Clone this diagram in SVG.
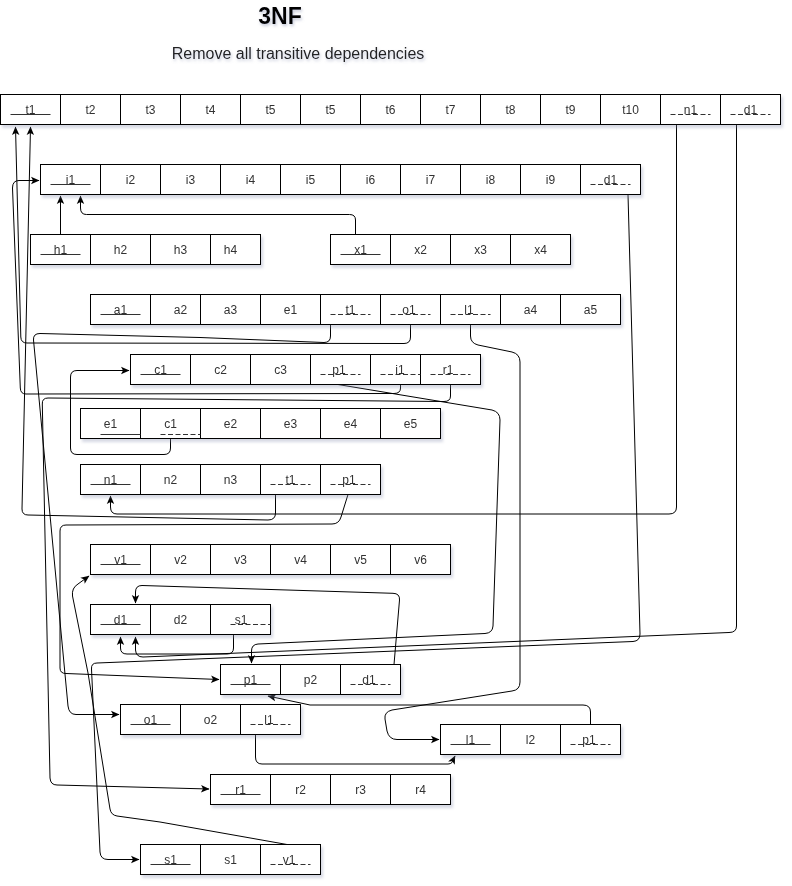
<svg xmlns="http://www.w3.org/2000/svg" width="792" height="886" viewBox="0 0 792 886">
<style>
.c{fill:#fff;stroke:#000;stroke-width:1}
.t{font-family:"Liberation Sans",Arial,sans-serif;font-size:12px;fill:#333;text-anchor:middle}
.pk{stroke:#333;stroke-width:1}
.fk{stroke:#333;stroke-width:1;stroke-dasharray:5 2.5}
.e{fill:none;stroke:#000;stroke-width:1}
.ea{fill:none;stroke:#000;stroke-width:1;marker-end:url(#ar)}
.tb{filter:url(#sh)}
</style>
<defs>
<filter id="sh" x="-5%" y="-20%" width="115%" height="160%">
<feDropShadow dx="2" dy="3" stdDeviation="1.5" flood-color="#8890b0" flood-opacity="0.35"/>
</filter>
<filter id="tsh" x="-20%" y="-50%" width="140%" height="200%">
<feDropShadow dx="1" dy="2" stdDeviation="1.5" flood-color="#8890b0" flood-opacity="0.5"/>
</filter>
<marker id="ar" markerWidth="10" markerHeight="10" refX="9" refY="5" orient="auto" markerUnits="userSpaceOnUse">
<path d="M1,1.3 L9.5,5 L1,8.7 L3,5 z" fill="#000"/>
</marker>
</defs>
<rect width="792" height="886" fill="#fff"/>
<g id="title">
<text x="280" y="24" font-family="Liberation Sans,Arial,sans-serif" font-size="23" font-weight="bold" fill="#000" text-anchor="middle" filter="url(#tsh)">3NF</text>
<text x="298" y="59" font-family="Liberation Sans,Arial,sans-serif" font-size="16" fill="#222" text-anchor="middle" filter="url(#tsh)">Remove all transitive dependencies</text>
</g>

<g id="connectors">
<path class="ea" d="M60.5,234.5 V196"/>
<path class="ea" d="M355.5,234.5 V220 Q355.5,214.5 349.5,214.5 H86.5 Q80.5,214.5 80.5,208 V196"/>
<path class="ea" d="M400.5,384.5 V388 Q400.5,393.5 394,393.5 L26,394 Q20.5,394 20.3,388 L12.5,188 Q12.5,180.5 19,180.5 H39"/>
<path class="ea" d="M330.5,324.5 V336 Q330.5,342.5 324,342.5 L200,337.5 L40,333.5 Q33,333.5 33.5,340 L68,706 Q69,714.5 76,714.5 H119"/>
<path class="ea" d="M410.5,324.5 V337 Q410.5,343.5 404,343.5 L27,343 Q21,343 20.8,337 L15.5,127"/>
<path class="ea" d="M450.5,384.5 V396 Q450.5,401.5 444,401.5 L48,398 Q42,398 42.3,404 L50,778 Q50.5,785 57,785 L209,789"/>
<path class="ea" d="M338,384.5 L492,410 Q500,412 500,420 L493,626 Q492.5,633 485,633.5 L258,644 Q251.5,644.5 251.5,651 V663"/>
<path class="ea" d="M170.5,438.5 V448 Q170.5,454.5 164,454.5 H77 Q70.5,454.5 70.5,448 V377 Q70.5,370.5 77,370.5 H129"/>
<path class="ea" d="M676.5,124.5 V507 Q676.5,514 669,514 H117 Q110.5,514 110.5,507 V496"/>
<path class="ea" d="M275.5,494.5 V513 Q275.5,520 268,520 L28,515 Q22,515 22,509 L30.5,127"/>
<path class="ea" d="M348,494.5 L341,517 Q339,524 332,524 L66,525 Q60,525 60,531 V668 Q60,673.5 66,673.5 L219,679.5"/>
<path class="ea" d="M736.5,124.5 V626 Q736.5,632.5 729,632.5 L143,657 Q136,657 135.5,650 V637"/>
<path class="ea" d="M628,194.5 L640,634 Q640,641 633,641.5 L97,663 Q91,663 91.5,669 L100,852 Q100.5,859.5 108,859.5 H139"/>
<path class="ea" d="M233.5,634.5 V648 Q233.5,654 227,654 H127 Q120.5,654 120.5,648 V637"/>
<path class="ea" d="M394,664.5 L399.5,600 Q400,593.5 393,593.3 L142,585.5 Q135.5,585.5 135.5,592 V603"/>
<path class="ea" d="M590.5,724.5 V712 Q590.5,705 583,705 H310 L268,696"/>
<path class="ea" d="M470.5,324.5 V336 Q470.5,343 478,345 L512,352 Q520,354 520,362 V682 Q520,690 512,691 L392,710 Q384,712 385,719 L387,731 Q389,739.5 397,739.5 H439"/>
<path class="ea" d="M255.5,734.5 V757 Q255.5,764 262,764 H448 Q453,764 454,758 L455,756"/>
<path class="ea" d="M287,844.5 L160,822 L117,816 Q111,815 110,809 L88,673 L72.5,596 Q71.5,588 78,584 L89,576"/>
</g>

<g id="table-t" class="tb">
<rect class="c" x="0.5" y="94.5" width="60" height="30"/><rect class="c" x="60.5" y="94.5" width="60" height="30"/><rect class="c" x="120.5" y="94.5" width="60" height="30"/><rect class="c" x="180.5" y="94.5" width="60" height="30"/><rect class="c" x="240.5" y="94.5" width="60" height="30"/><rect class="c" x="300.5" y="94.5" width="60" height="30"/><rect class="c" x="360.5" y="94.5" width="60" height="30"/><rect class="c" x="420.5" y="94.5" width="60" height="30"/><rect class="c" x="480.5" y="94.5" width="60" height="30"/><rect class="c" x="540.5" y="94.5" width="60" height="30"/><rect class="c" x="600.5" y="94.5" width="60" height="30"/><rect class="c" x="660.5" y="94.5" width="60" height="30"/><rect class="c" x="720.5" y="94.5" width="60" height="30"/>
<text class="t" x="30.5" y="113.5">t1</text><text class="t" x="90.5" y="113.5">t2</text><text class="t" x="150.5" y="113.5">t3</text><text class="t" x="210.5" y="113.5">t4</text><text class="t" x="270.5" y="113.5">t5</text><text class="t" x="330.5" y="113.5">t5</text><text class="t" x="390.5" y="113.5">t6</text><text class="t" x="450.5" y="113.5">t7</text><text class="t" x="510.5" y="113.5">t8</text><text class="t" x="570.5" y="113.5">t9</text><text class="t" x="630.5" y="113.5">t10</text><text class="t" x="690.5" y="113.5">n1</text><text class="t" x="750.5" y="113.5">d1</text>
<line class="pk" x1="10.5" y1="114.5" x2="50.5" y2="114.5"/><line class="fk" x1="670.5" y1="114.5" x2="710.5" y2="114.5"/><line class="fk" x1="730.5" y1="114.5" x2="770.5" y2="114.5"/>
</g>

<g id="table-i" class="tb">
<rect class="c" x="40.5" y="164.5" width="60" height="30"/><rect class="c" x="100.5" y="164.5" width="60" height="30"/><rect class="c" x="160.5" y="164.5" width="60" height="30"/><rect class="c" x="220.5" y="164.5" width="60" height="30"/><rect class="c" x="280.5" y="164.5" width="60" height="30"/><rect class="c" x="340.5" y="164.5" width="60" height="30"/><rect class="c" x="400.5" y="164.5" width="60" height="30"/><rect class="c" x="460.5" y="164.5" width="60" height="30"/><rect class="c" x="520.5" y="164.5" width="60" height="30"/><rect class="c" x="580.5" y="164.5" width="60" height="30"/>
<text class="t" x="70.5" y="183.5">i1</text><text class="t" x="130.5" y="183.5">i2</text><text class="t" x="190.5" y="183.5">i3</text><text class="t" x="250.5" y="183.5">i4</text><text class="t" x="310.5" y="183.5">i5</text><text class="t" x="370.5" y="183.5">i6</text><text class="t" x="430.5" y="183.5">i7</text><text class="t" x="490.5" y="183.5">i8</text><text class="t" x="550.5" y="183.5">i9</text><text class="t" x="610.5" y="183.5">d1</text>
<line class="pk" x1="50.5" y1="184.5" x2="90.5" y2="184.5"/><line class="fk" x1="590.5" y1="184.5" x2="630.5" y2="184.5"/>
</g>

<g id="table-h" class="tb">
<rect class="c" x="30.5" y="234.5" width="60" height="30"/><rect class="c" x="90.5" y="234.5" width="60" height="30"/><rect class="c" x="150.5" y="234.5" width="60" height="30"/><rect class="c" x="210.5" y="234.5" width="50" height="30"/>
<text class="t" x="60.5" y="253.5">h1</text><text class="t" x="120.5" y="253.5">h2</text><text class="t" x="180.5" y="253.5">h3</text><text class="t" x="230.5" y="253.5">h4</text>
<line class="pk" x1="40.5" y1="254.5" x2="80.5" y2="254.5"/>
</g>

<g id="table-x" class="tb">
<rect class="c" x="330.5" y="234.5" width="60" height="30"/><rect class="c" x="390.5" y="234.5" width="60" height="30"/><rect class="c" x="450.5" y="234.5" width="60" height="30"/><rect class="c" x="510.5" y="234.5" width="60" height="30"/>
<text class="t" x="360.5" y="253.5">x1</text><text class="t" x="420.5" y="253.5">x2</text><text class="t" x="480.5" y="253.5">x3</text><text class="t" x="540.5" y="253.5">x4</text>
<line class="pk" x1="340.5" y1="254.5" x2="380.5" y2="254.5"/>
</g>

<g id="table-a" class="tb">
<rect class="c" x="90.5" y="294.5" width="60" height="30"/><rect class="c" x="150.5" y="294.5" width="50" height="30"/><rect class="c" x="200.5" y="294.5" width="60" height="30"/><rect class="c" x="260.5" y="294.5" width="60" height="30"/><rect class="c" x="320.5" y="294.5" width="60" height="30"/><rect class="c" x="380.5" y="294.5" width="60" height="30"/><rect class="c" x="440.5" y="294.5" width="60" height="30"/><rect class="c" x="500.5" y="294.5" width="60" height="30"/><rect class="c" x="560.5" y="294.5" width="60" height="30"/>
<text class="t" x="120.5" y="313.5">a1</text><text class="t" x="180.5" y="313.5">a2</text><text class="t" x="230.5" y="313.5">a3</text><text class="t" x="290.5" y="313.5">e1</text><text class="t" x="350.5" y="313.5">t1</text><text class="t" x="409" y="313.5">o1</text><text class="t" x="469" y="313.5">l1</text><text class="t" x="530.5" y="313.5">a4</text><text class="t" x="590.5" y="313.5">a5</text>
<line class="pk" x1="100.5" y1="314.5" x2="140.5" y2="314.5"/><line class="fk" x1="330.5" y1="314.5" x2="370.5" y2="314.5"/><line class="fk" x1="390.5" y1="314.5" x2="430.5" y2="314.5"/><line class="fk" x1="450.5" y1="314.5" x2="490.5" y2="314.5"/>
</g>

<g id="table-c" class="tb">
<rect class="c" x="130.5" y="354.5" width="60" height="30"/><rect class="c" x="190.5" y="354.5" width="60" height="30"/><rect class="c" x="250.5" y="354.5" width="60" height="30"/><rect class="c" x="310.5" y="354.5" width="60" height="30"/><rect class="c" x="370.5" y="354.5" width="50" height="30"/><rect class="c" x="420.5" y="354.5" width="60" height="30"/>
<text class="t" x="160.5" y="373.5">c1</text><text class="t" x="220.5" y="373.5">c2</text><text class="t" x="280.5" y="373.5">c3</text><text class="t" x="339" y="373.5">p1</text><text class="t" x="400" y="373.5">i1</text><text class="t" x="448" y="373.5">r1</text>
<line class="pk" x1="140.5" y1="374.5" x2="180.5" y2="374.5"/><line class="fk" x1="320.5" y1="374.5" x2="360.5" y2="374.5"/><line class="fk" x1="380.5" y1="374.5" x2="420.5" y2="374.5"/><line class="fk" x1="430.5" y1="374.5" x2="470.5" y2="374.5"/>
</g>

<g id="table-e" class="tb">
<rect class="c" x="80.5" y="408.5" width="60" height="30"/><rect class="c" x="140.5" y="408.5" width="60" height="30"/><rect class="c" x="200.5" y="408.5" width="60" height="30"/><rect class="c" x="260.5" y="408.5" width="60" height="30"/><rect class="c" x="320.5" y="408.5" width="60" height="30"/><rect class="c" x="380.5" y="408.5" width="60" height="30"/>
<text class="t" x="110.5" y="427.5">e1</text><text class="t" x="170.5" y="427.5">c1</text><text class="t" x="230.5" y="427.5">e2</text><text class="t" x="290.5" y="427.5">e3</text><text class="t" x="350.5" y="427.5">e4</text><text class="t" x="410.5" y="427.5">e5</text>
<line class="pk" x1="100.5" y1="434.5" x2="140.5" y2="434.5"/><line class="fk" x1="160.5" y1="434.5" x2="200.5" y2="434.5"/>
</g>

<g id="table-n" class="tb">
<rect class="c" x="80.5" y="464.5" width="60" height="30"/><rect class="c" x="140.5" y="464.5" width="60" height="30"/><rect class="c" x="200.5" y="464.5" width="60" height="30"/><rect class="c" x="260.5" y="464.5" width="60" height="30"/><rect class="c" x="320.5" y="464.5" width="60" height="30"/>
<text class="t" x="110.5" y="483.5">n1</text><text class="t" x="170.5" y="483.5">n2</text><text class="t" x="230.5" y="483.5">n3</text><text class="t" x="290.5" y="483.5">t1</text><text class="t" x="349" y="483.5">p1</text>
<line class="pk" x1="90.5" y1="484.5" x2="130.5" y2="484.5"/><line class="fk" x1="270.5" y1="484.5" x2="310.5" y2="484.5"/><line class="fk" x1="330.5" y1="484.5" x2="370.5" y2="484.5"/>
</g>

<g id="table-v" class="tb">
<rect class="c" x="90.5" y="544.5" width="60" height="30"/><rect class="c" x="150.5" y="544.5" width="60" height="30"/><rect class="c" x="210.5" y="544.5" width="60" height="30"/><rect class="c" x="270.5" y="544.5" width="60" height="30"/><rect class="c" x="330.5" y="544.5" width="60" height="30"/><rect class="c" x="390.5" y="544.5" width="60" height="30"/>
<text class="t" x="120.5" y="563.5">v1</text><text class="t" x="180.5" y="563.5">v2</text><text class="t" x="240.5" y="563.5">v3</text><text class="t" x="300.5" y="563.5">v4</text><text class="t" x="360.5" y="563.5">v5</text><text class="t" x="420.5" y="563.5">v6</text>
<line class="pk" x1="100.5" y1="564.5" x2="140.5" y2="564.5"/>
</g>

<g id="table-d" class="tb">
<rect class="c" x="90.5" y="604.5" width="60" height="30"/><rect class="c" x="150.5" y="604.5" width="60" height="30"/><rect class="c" x="210.5" y="604.5" width="60" height="30"/>
<text class="t" x="120.5" y="623.5">d1</text><text class="t" x="180.5" y="623.5">d2</text><text class="t" x="241" y="623.5">s1</text>
<line class="pk" x1="100.5" y1="624.5" x2="140.5" y2="624.5"/><line class="fk" x1="230.5" y1="624.5" x2="270.5" y2="624.5"/>
</g>

<g id="table-p" class="tb">
<rect class="c" x="220.5" y="664.5" width="60" height="30"/><rect class="c" x="280.5" y="664.5" width="60" height="30"/><rect class="c" x="340.5" y="664.5" width="60" height="30"/>
<text class="t" x="250.5" y="683.5">p1</text><text class="t" x="310.5" y="683.5">p2</text><text class="t" x="369" y="683.5">d1</text>
<line class="pk" x1="230.5" y1="684.5" x2="270.5" y2="684.5"/><line class="fk" x1="350.5" y1="684.5" x2="390.5" y2="684.5"/>
</g>

<g id="table-o" class="tb">
<rect class="c" x="120.5" y="704.5" width="60" height="30"/><rect class="c" x="180.5" y="704.5" width="60" height="30"/><rect class="c" x="240.5" y="704.5" width="60" height="30"/>
<text class="t" x="150.5" y="723.5">o1</text><text class="t" x="210.5" y="723.5">o2</text><text class="t" x="269" y="723.5">l1</text>
<line class="pk" x1="130.5" y1="724.5" x2="170.5" y2="724.5"/><line class="fk" x1="250.5" y1="724.5" x2="290.5" y2="724.5"/>
</g>

<g id="table-l" class="tb">
<rect class="c" x="440.5" y="724.5" width="60" height="30"/><rect class="c" x="500.5" y="724.5" width="60" height="30"/><rect class="c" x="560.5" y="724.5" width="60" height="30"/>
<text class="t" x="470.5" y="743.5">l1</text><text class="t" x="530.5" y="743.5">l2</text><text class="t" x="589" y="743.5">p1</text>
<line class="pk" x1="450.5" y1="744.5" x2="490.5" y2="744.5"/><line class="fk" x1="570.5" y1="744.5" x2="610.5" y2="744.5"/>
</g>

<g id="table-r" class="tb">
<rect class="c" x="210.5" y="774.5" width="60" height="30"/><rect class="c" x="270.5" y="774.5" width="60" height="30"/><rect class="c" x="330.5" y="774.5" width="60" height="30"/><rect class="c" x="390.5" y="774.5" width="60" height="30"/>
<text class="t" x="240.5" y="793.5">r1</text><text class="t" x="300.5" y="793.5">r2</text><text class="t" x="360.5" y="793.5">r3</text><text class="t" x="420.5" y="793.5">r4</text>
<line class="pk" x1="220.5" y1="794.5" x2="260.5" y2="794.5"/>
</g>

<g id="table-s" class="tb">
<rect class="c" x="140.5" y="844.5" width="60" height="30"/><rect class="c" x="200.5" y="844.5" width="60" height="30"/><rect class="c" x="260.5" y="844.5" width="60" height="30"/>
<text class="t" x="170.5" y="863.5">s1</text><text class="t" x="230.5" y="863.5">s1</text><text class="t" x="289" y="863.5">v1</text>
<line class="pk" x1="150.5" y1="864.5" x2="190.5" y2="864.5"/><line class="fk" x1="270.5" y1="864.5" x2="310.5" y2="864.5"/>
</g>
</svg>
